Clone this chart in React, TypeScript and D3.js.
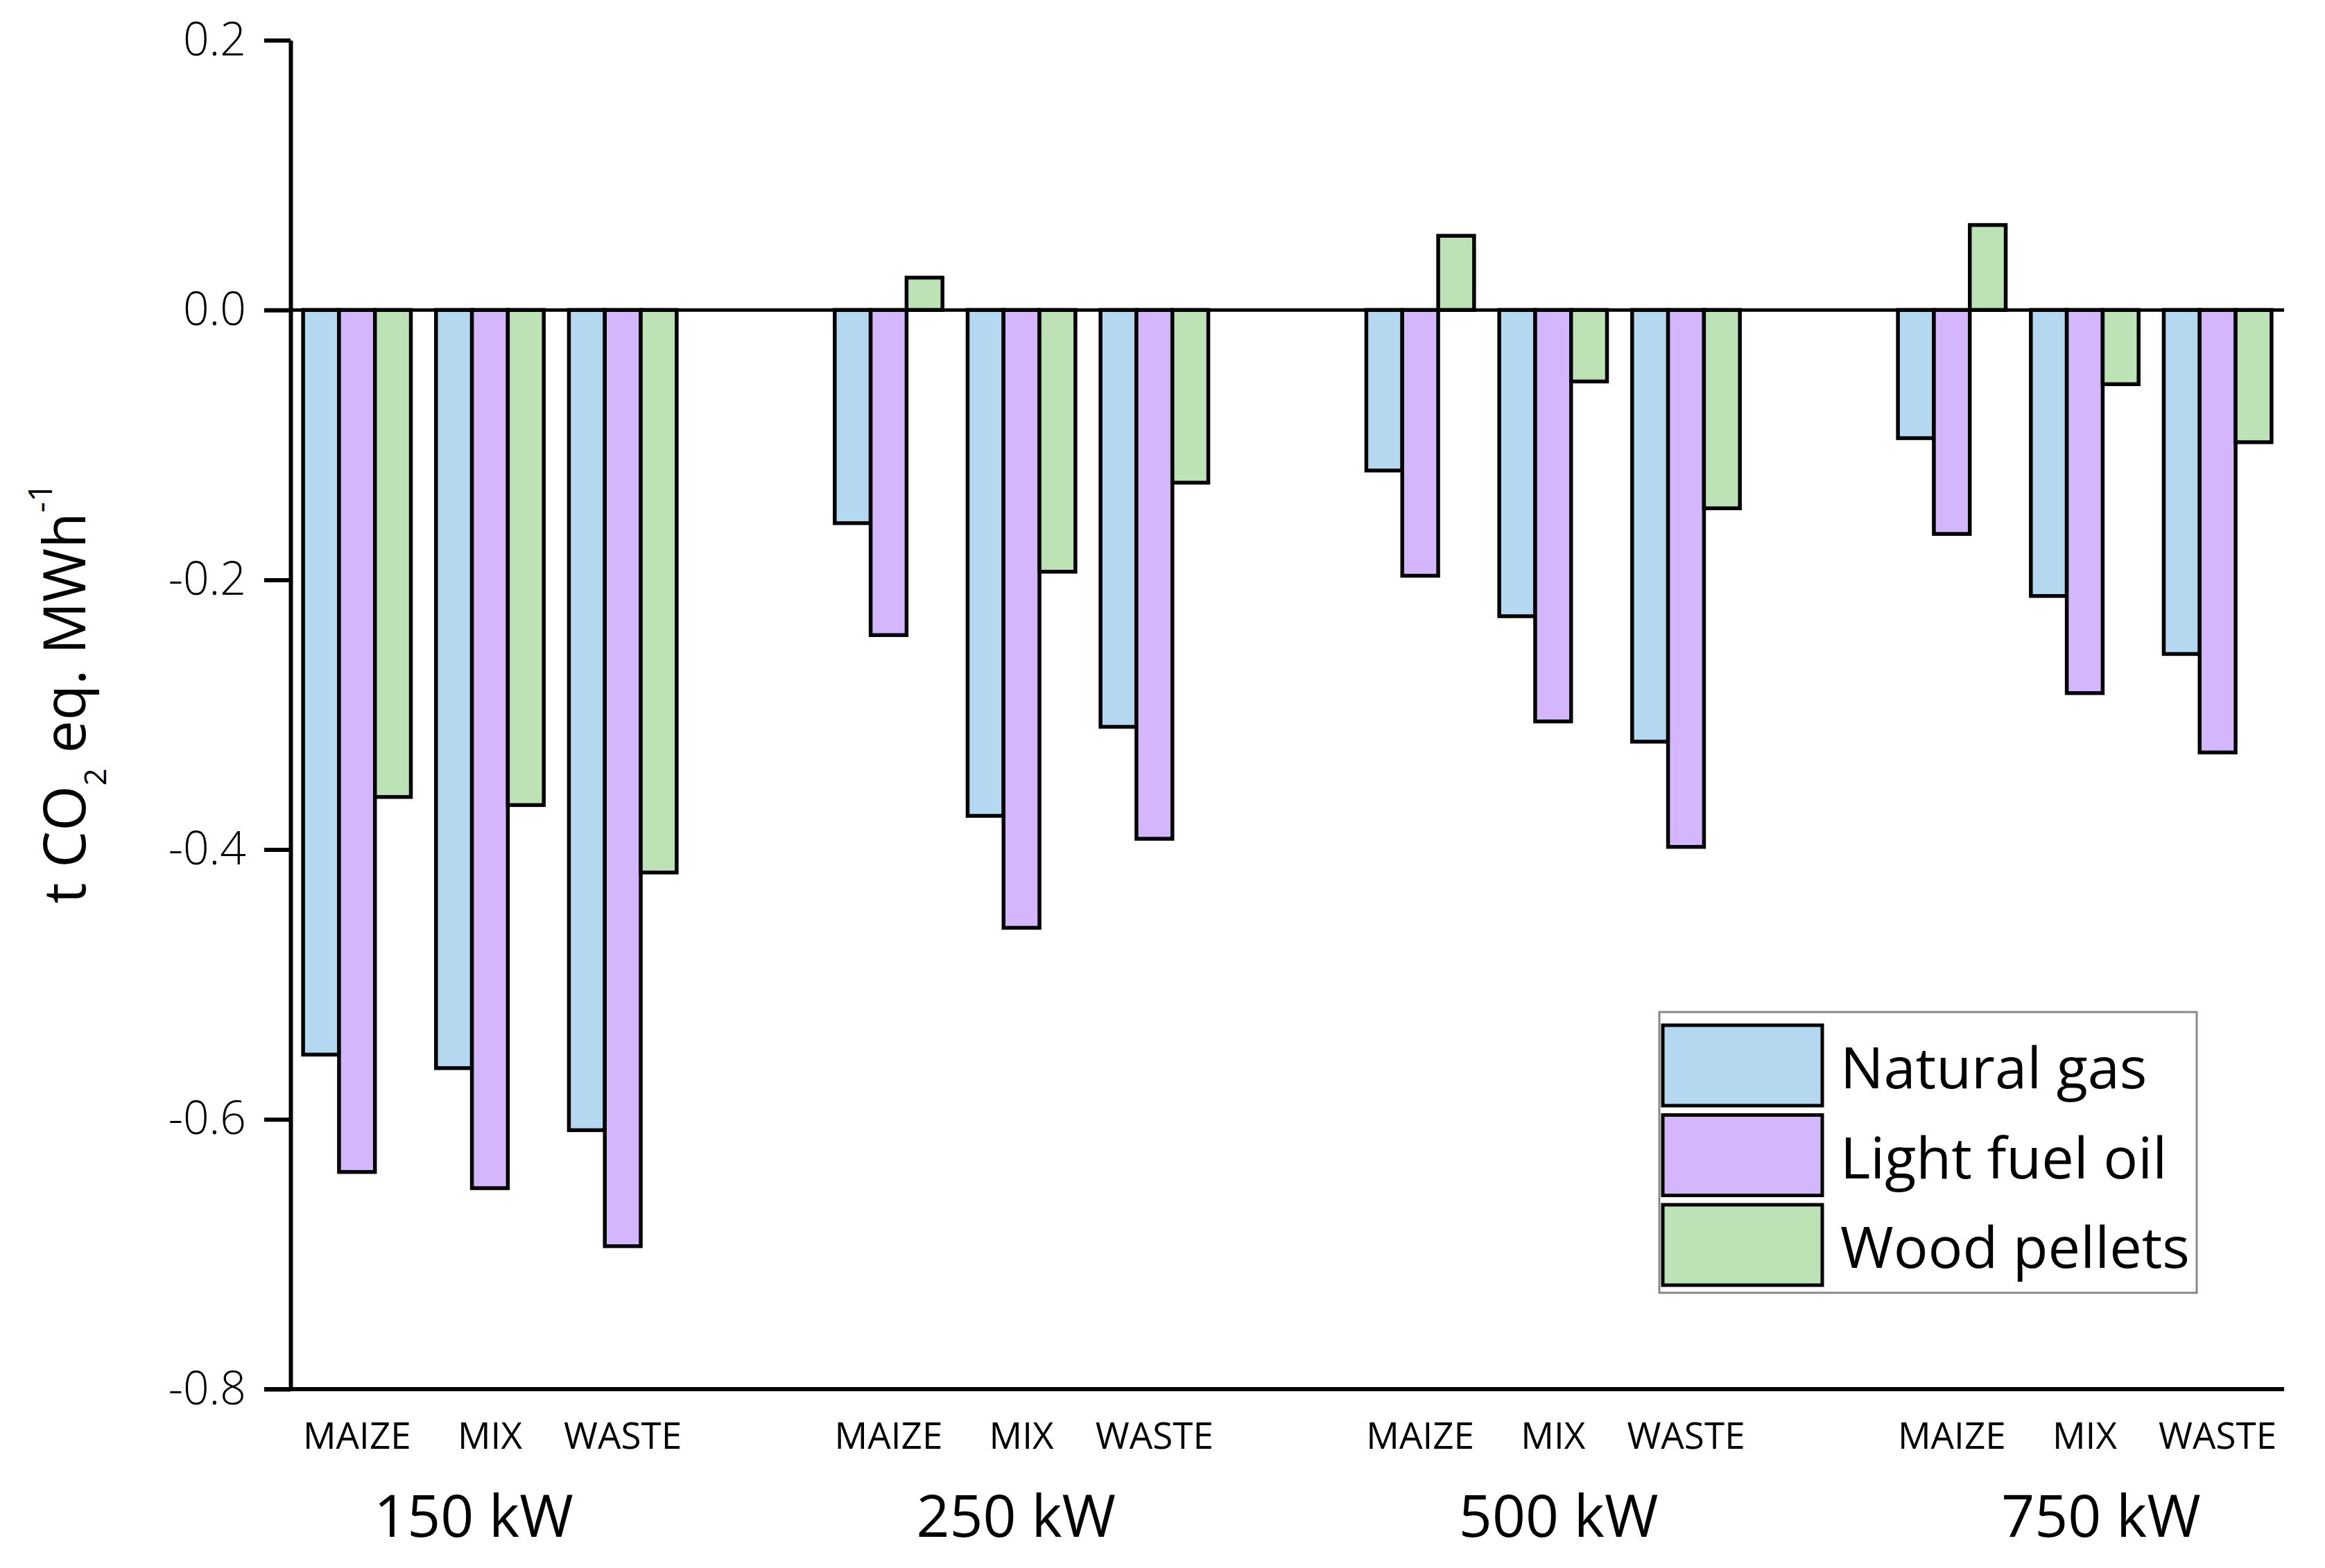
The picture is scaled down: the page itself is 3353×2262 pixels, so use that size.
import { useEffect, useRef } from 'react';
import * as d3 from 'd3';

const powers = ['150 kW', '250 kW', '500 kW', '750 kW'];
const feedstocks = ['MAIZE', 'MIX', 'WASTE'];
const fuels = ['Natural gas', 'Light fuel oil', 'Wood pellets'];
const fuelColors = ['#b4d8ef', '#d4b6fc', '#bde2b5'];

// values per power, per feedstock: [natural gas, light fuel oil, wood pellets]
const values150 = [[-0.552, -0.639, -0.361], [-0.562, -0.651, -0.367], [-0.608, -0.694, -0.417]];
const values250 = [[-0.158, -0.241, 0.024], [-0.375, -0.458, -0.194], [-0.309, -0.392, -0.128]];
const values500 = [[-0.119, -0.197, 0.055], [-0.227, -0.305, -0.053], [-0.320, -0.398, -0.147]];
const values750 = [[-0.095, -0.166, 0.063], [-0.212, -0.284, -0.055], [-0.255, -0.328, -0.098]];

const yTicks = [0.2, 0.0, -0.2, -0.4, -0.6, -0.8];

type Bar = { slot: string; fuel: string; fuelIndex: number; value: number };

export default function App() {
  const svgRef = useRef<SVGSVGElement>(null);

  useEffect(() => {
    if (!svgRef.current) return;
    document.body.style.margin = '0';

    const width = 3353;
    const height = 2262;
    const font = '"Open Sans", "Noto Sans", sans-serif';

    const svg = d3.select(svgRef.current);
    svg.selectAll('*').remove();
    svg.attr('width', width).attr('height', height).style('font-family', font);

    // slots: 3 feedstocks per power, with an empty slot between power groups
    const slots: string[] = [];
    powers.forEach((p, i) => {
      feedstocks.forEach(f => slots.push(`${p}|${f}`));
      if (i < powers.length - 1) slots.push(`gap${i}`);
    });

    const x = d3.scaleBand().domain(slots).range([419, 3294]).padding(0);
    const xFuel = d3.scaleBand().domain(fuels).range([0, x.bandwidth()]).paddingInner(0).paddingOuter(0.35);
    const y = d3.scaleLinear().domain([-0.8, 0.2]).range([2004, 58]);
    // power group labels sit on their own evenly spaced positions
    const xPower = d3.scalePoint().domain(powers).range([683, 3030]);

    const allValues = [values150, values250, values500, values750];
    const bars: Bar[] = [];
    powers.forEach((p, pi) => {
      feedstocks.forEach((f, fi) => {
        fuels.forEach((fuel, ui) => {
          bars.push({ slot: `${p}|${f}`, fuel, fuelIndex: ui, value: allValues[pi][fi][ui] });
        });
      });
    });

    // Bars
    svg.append('g')
      .selectAll('rect')
      .data(bars)
      .enter()
      .append('rect')
      .attr('x', d => (x(d.slot) || 0) + (xFuel(d.fuel) || 0))
      .attr('y', d => Math.min(y(d.value), y(0)))
      .attr('width', xFuel.bandwidth())
      .attr('height', d => Math.abs(y(d.value) - y(0)))
      .attr('fill', d => fuelColors[d.fuelIndex])
      .attr('stroke', '#000')
      .attr('stroke-width', 5.5);

    // Y axis
    const yAxis = svg.append('g')
      .attr('transform', `translate(419,0)`)
      .call(
        d3.axisLeft(y)
          .tickValues(yTicks)
          .tickFormat(d => Number(d).toFixed(1))
          .tickSize(38)
          .tickSizeOuter(0)
          .tickPadding(26)
      );
    yAxis.select('.domain').attr('stroke', '#000').attr('stroke-width', 6);
    yAxis.selectAll('.tick line').attr('stroke', '#000').attr('stroke-width', 6);
    yAxis.selectAll('.tick text')
      .attr('fill', '#000')
      .style('font-family', font)
      .style('font-size', '66px')
      .style('font-weight', 300);

    // Zero line and bottom line
    svg.append('line')
      .attr('x1', 381).attr('x2', 3294)
      .attr('y1', y(0)).attr('y2', y(0))
      .attr('stroke', '#000').attr('stroke-width', 5);
    svg.append('line')
      .attr('x1', 381).attr('x2', 3294)
      .attr('y1', y(-0.8)).attr('y2', y(-0.8))
      .attr('stroke', '#000').attr('stroke-width', 6);

    // Feedstock labels
    const catSlots = slots.filter(s => s.includes('|'));
    svg.append('g')
      .selectAll('text')
      .data(catSlots)
      .enter()
      .append('text')
      .attr('x', d => (x(d) || 0) + x.bandwidth() / 2)
      .attr('y', 2090)
      .attr('text-anchor', 'middle')
      .style('font-size', '53px')
      .text(d => d.split('|')[1]);

    // Power labels
    svg.append('g')
      .selectAll('text')
      .data(powers)
      .enter()
      .append('text')
      .attr('x', d => xPower(d) || 0)
      .attr('y', 2217)
      .attr('text-anchor', 'middle')
      .style('font-size', '84px')
      .text(d => d);

    // Y axis label
    const yLabel = svg.append('text')
      .attr('transform', 'translate(123,1000) rotate(-90)')
      .attr('text-anchor', 'middle')
      .style('font-size', '84px');
    yLabel.append('tspan').text('t CO');
    yLabel.append('tspan').attr('dy', 30).style('font-size', '44px').text('2');
    yLabel.append('tspan').attr('dy', -30).text(' eq. MWh');
    yLabel.append('tspan').attr('dy', -48).style('font-size', '48px').text('-1');

    // Legend
    const legend = svg.append('g');
    legend.append('rect')
      .attr('x', 2393).attr('y', 1460)
      .attr('width', 775).attr('height', 405)
      .attr('fill', '#fff')
      .attr('stroke', '#888')
      .attr('stroke-width', 3);
    const rows = legend.selectAll('g.row')
      .data(fuels)
      .enter()
      .append('g')
      .attr('class', 'row')
      .attr('transform', (_, i) => `translate(0,${1479 + i * 129.5})`);
    rows.append('rect')
      .attr('x', 2398).attr('y', 0)
      .attr('width', 230).attr('height', 116)
      .attr('fill', (_, i) => fuelColors[i])
      .attr('stroke', '#000')
      .attr('stroke-width', 5);
    rows.append('text')
      .attr('x', 2654).attr('y', 91)
      .style('font-size', '83px')
      .text(d => d);
  }, []);

  return <svg ref={svgRef} style={{ display: 'block' }} />;
}
